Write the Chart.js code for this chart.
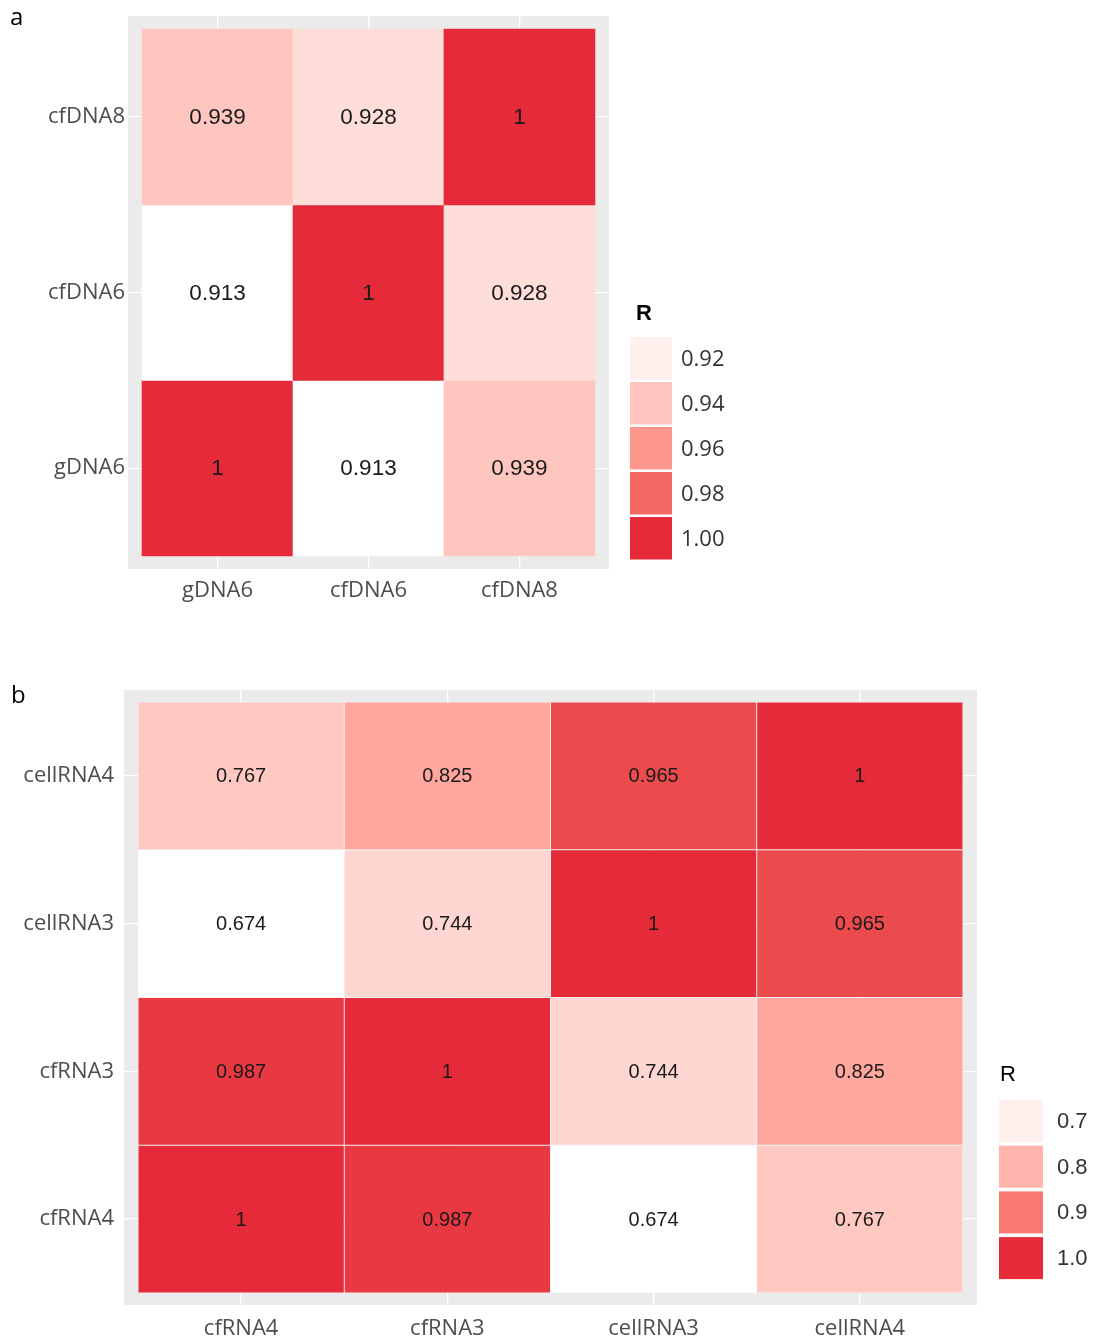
<!DOCTYPE html>
<html>
<head>
<meta charset="utf-8">
<script src="https://cdn.jsdelivr.net/npm/chart.js@4/dist/chart.umd.min.js"></script>
<style>
  html, body { margin: 0; padding: 0; background: #ffffff; }
  body { width: 1099px; height: 1340px; position: relative; overflow: hidden; }
  canvas { position: absolute; left: 0; }
  #cA { top: 0; }
  #cB { top: 640px; }
</style>
</head>
<body>
<canvas id="cA" width="1099" height="640"></canvas>
<canvas id="cB" width="1099" height="700"></canvas>
<script>
// ---------------- DATA ----------------
// Panel a
const samplesA = ['gDNA6', 'cfDNA6', 'cfDNA8'];
// rows listed bottom -> top (y index), columns left -> right (x index)
const rowA_gDNA6  = [1, 0.913, 0.939];
const rowA_cfDNA6 = [0.913, 1, 0.928];
const rowA_cfDNA8 = [0.939, 0.928, 1];
const limitsA = [0.913, 1];
const breaksA = [0.92, 0.94, 0.96, 0.98, 1.00];
const breakLabelsA = ['0.92', '0.94', '0.96', '0.98', '1.00'];

// Panel b
const samplesB = ['cfRNA4', 'cfRNA3', 'cellRNA3', 'cellRNA4'];
const rowB_cfRNA4   = [1, 0.987, 0.674, 0.767];
const rowB_cfRNA3   = [0.987, 1, 0.744, 0.825];
const rowB_cellRNA3 = [0.674, 0.744, 1, 0.965];
const rowB_cellRNA4 = [0.767, 0.825, 0.965, 1];
const limitsB = [0.674, 1];
const breaksB = [0.7, 0.8, 0.9, 1.0];
const breakLabelsB = ['0.7', '0.8', '0.9', '1.0'];

// ---------------- COLOUR SCALE (Lab interpolation, like ggplot) ----------------
const LOW = '#FFFFFF', HIGH = '#E52A3A';
function hexToRgb(h) { return [1,3,5].map(i => parseInt(h.substr(i,2),16)); }
function toLin(c) { c /= 255; return c <= 0.04045 ? c/12.92 : Math.pow((c+0.055)/1.055, 2.4); }
function fromLin(c) { const v = c <= 0.0031308 ? 12.92*c : 1.055*Math.pow(c, 1/2.4) - 0.055; return Math.max(0, Math.min(255, Math.round(v*255))); }
const Xn = 0.95047, Yn = 1, Zn = 1.08883;
function f(t) { return t > 0.008856 ? Math.cbrt(t) : 7.787*t + 16/116; }
function finv(t) { const t3 = t*t*t; return t3 > 0.008856 ? t3 : (t - 16/116)/7.787; }
function rgbToLab(rgb) {
  const [r,g,b] = rgb.map(toLin);
  const X = 0.4124*r + 0.3576*g + 0.1805*b;
  const Y = 0.2126*r + 0.7152*g + 0.0722*b;
  const Z = 0.0193*r + 0.1192*g + 0.9505*b;
  const fx = f(X/Xn), fy = f(Y/Yn), fz = f(Z/Zn);
  return [116*fy - 16, 500*(fx - fy), 200*(fy - fz)];
}
function labToRgb(lab) {
  const [L,a,b] = lab;
  const fy = (L+16)/116, fx = fy + a/500, fz = fy - b/200;
  const X = Xn*finv(fx), Y = Yn*finv(fy), Z = Zn*finv(fz);
  const r = 3.2406*X - 1.5372*Y - 0.4986*Z;
  const g = -0.9689*X + 1.8758*Y + 0.0415*Z;
  const bb = 0.0557*X - 0.2040*Y + 1.0570*Z;
  return [fromLin(r), fromLin(g), fromLin(bb)];
}
const labLow = rgbToLab(hexToRgb(LOW)), labHigh = rgbToLab(hexToRgb(HIGH));
function colourFor(v, lim) {
  let t = (v - lim[0]) / (lim[1] - lim[0]);
  t = Math.max(0, Math.min(1, t));
  const lab = labLow.map((c, i) => c + (labHigh[i] - c) * t);
  const [r,g,b] = labToRgb(lab);
  return `rgb(${r},${g},${b})`;
}

// ---------------- BUILD ----------------
function buildCells(rows) {
  const cells = [];
  rows.forEach((row, yi) => row.forEach((v, xi) => cells.push({ x: xi, y: [yi - 0.5, yi + 0.5], v })));
  return cells;
}

const bgPlugin = {
  id: 'panelBg',
  beforeDraw(chart) {
    const { ctx, chartArea: a } = chart;
    ctx.save();
    ctx.fillStyle = '#EBEBEB';
    ctx.fillRect(a.left, a.top, a.right - a.left, a.bottom - a.top);
    ctx.restore();
  }
};

const cellLabelPlugin = {
  id: 'cellLabels',
  afterDatasetsDraw(chart, args, opts) {
    const { ctx, scales } = chart;
    ctx.save();
    ctx.font = opts.font;
    ctx.fillStyle = opts.color;
    ctx.textAlign = 'center';
    ctx.textBaseline = 'middle';
    chart.data.datasets[0].data.forEach(c => {
      const px = scales.x.getPixelForValue(c.x);
      const py = scales.y.getPixelForValue((c.y[0] + c.y[1]) / 2);
      ctx.fillText(String(c.v), px, py + 1);
    });
    ctx.restore();
  }
};

const legendPlugin = {
  id: 'colourKey',
  afterDraw(chart, args, o) {
    const { ctx } = chart;
    ctx.save();
    // panel letter
    ctx.font = o.letterFont;
    ctx.fillStyle = '#000';
    ctx.textAlign = 'left';
    ctx.textBaseline = 'alphabetic';
    ctx.fillText(o.letter, o.letterX, o.letterY);
    // title
    ctx.font = o.titleFont;
    ctx.fillStyle = '#000';
    ctx.textBaseline = 'middle';
    ctx.fillText('R', o.titleX, o.titleY);
    // keys
    o.breaks.forEach((b, i) => {
      const y = o.keyTop + i * o.keyStep;
      ctx.fillStyle = colourFor(b, o.limits);
      ctx.fillRect(o.keyX, y, o.keyW, o.keyH);
      ctx.fillStyle = '#333333';
      ctx.font = o.labelFont;
      ctx.textBaseline = 'middle';
      ctx.fillText(o.labels[i], o.labelX, y + o.keyH / 2 + 1);
    });
    ctx.restore();
  }
};

function makeChart(id, cfg) {
  const cells = buildCells(cfg.rows);
  const tickList = cfg.samples.map((s, i) => ({ value: i }));
  return new Chart(document.getElementById(id), {
    type: 'bar',
    data: {
      datasets: [{
        data: cells,
        backgroundColor: cells.map(c => colourFor(c.v, cfg.limits)),
        borderColor: cfg.cellBorder,
        borderWidth: cfg.cellBorderWidth,
        borderSkipped: false,
        barPercentage: 1,
        categoryPercentage: 1
      }]
    },
    options: {
      responsive: false,
      animation: false,
      events: [],
      devicePixelRatio: 1,
      layout: { padding: cfg.padding },
      plugins: {
        legend: { display: false },
        tooltip: { enabled: false },
        cellLabels: { font: cfg.cellFont, color: '#1a1a1a' },
        colourKey: cfg.key
      },
      scales: {
        x: {
          type: 'linear',
          offset: false,
          min: cfg.xRange[0], max: cfg.xRange[1],
          afterBuildTicks: s => { s.ticks = tickList.map(t => ({ value: t.value })); },
          afterFit: s => { s.height = cfg.xAxisH; },
          ticks: {
            callback: v => cfg.samples[v],
            font: { family: 'Open Sans', size: 22 },
            color: '#4D4D4D',
            padding: cfg.xPad,
            maxRotation: 0, autoSkip: false
          },
          grid: { color: '#FFFFFF', lineWidth: 1.3, drawTicks: false, offset: false },
          border: { display: false }
        },
        y: {
          type: 'linear',
          min: cfg.yRange[0], max: cfg.yRange[1],
          afterBuildTicks: s => { s.ticks = tickList.map(t => ({ value: t.value })); },
          afterFit: s => { s.width = cfg.yAxisW; },
          ticks: {
            callback: v => cfg.samples[v],
            font: { family: 'Open Sans', size: 22 },
            color: '#4D4D4D',
            padding: cfg.yPad,
            autoSkip: false
          },
          grid: { color: '#FFFFFF', lineWidth: 1.3, drawTicks: false },
          border: { display: false }
        }
      }
    },
    plugins: [bgPlugin, cellLabelPlugin, legendPlugin]
  });
}

makeChart('cA', {
  samples: samplesA,
  rows: [rowA_gDNA6, rowA_cfDNA6, rowA_cfDNA8],
  limits: limitsA,
  xRange: [-0.593, 2.593],
  yRange: [-0.574, 2.574],
  padding: { top: 14, right: 490, left: 0, bottom: 0 },
  yAxisW: 128, xAxisH: 71, xPad: 9, yPad: 3,
  cellFont: '22.5px "Liberation Sans", Arial, sans-serif',
  cellBorder: 'rgba(255,255,255,0)', cellBorderWidth: 0,
  key: {
    letter: 'a', letterX: 10, letterY: 25, letterFont: '24px "Open Sans"',
    titleFont: 'bold 22px "Liberation Sans", Arial', titleX: 636, titleY: 314,
    breaks: breaksA, labels: breakLabelsA, limits: limitsA,
    keyX: 630, keyW: 42, keyTop: 337, keyStep: 45, keyH: 42.5,
    labelX: 681, labelFont: '22px "Open Sans"'
  }
});

makeChart('cB', {
  samples: samplesB,
  rows: [rowB_cfRNA4, rowB_cfRNA3, rowB_cellRNA3, rowB_cellRNA4],
  limits: limitsB,
  xRange: [-0.568, 3.568],
  yRange: [-0.582, 3.582],
  padding: { top: 50, right: 122, left: 0, bottom: 0 },
  yAxisW: 124, xAxisH: 35, xPad: 11, yPad: 10,
  cellFont: '20px "Liberation Sans", Arial, sans-serif',
  cellBorder: 'rgba(255,255,255,0.35)', cellBorderWidth: 0.8,
  key: {
    letter: 'b', letterX: 11, letterY: 63, letterFont: '24px "Open Sans"',
    titleFont: '22px "Liberation Sans", Arial', titleX: 1000, titleY: 435,
    breaks: breaksB, labels: breakLabelsB, limits: limitsB,
    keyX: 999, keyW: 44, keyTop: 460, keyStep: 45.7, keyH: 42,
    labelX: 1057, labelFont: '22px "Liberation Sans", Arial'
  }
});
</script>
</body>
</html>
